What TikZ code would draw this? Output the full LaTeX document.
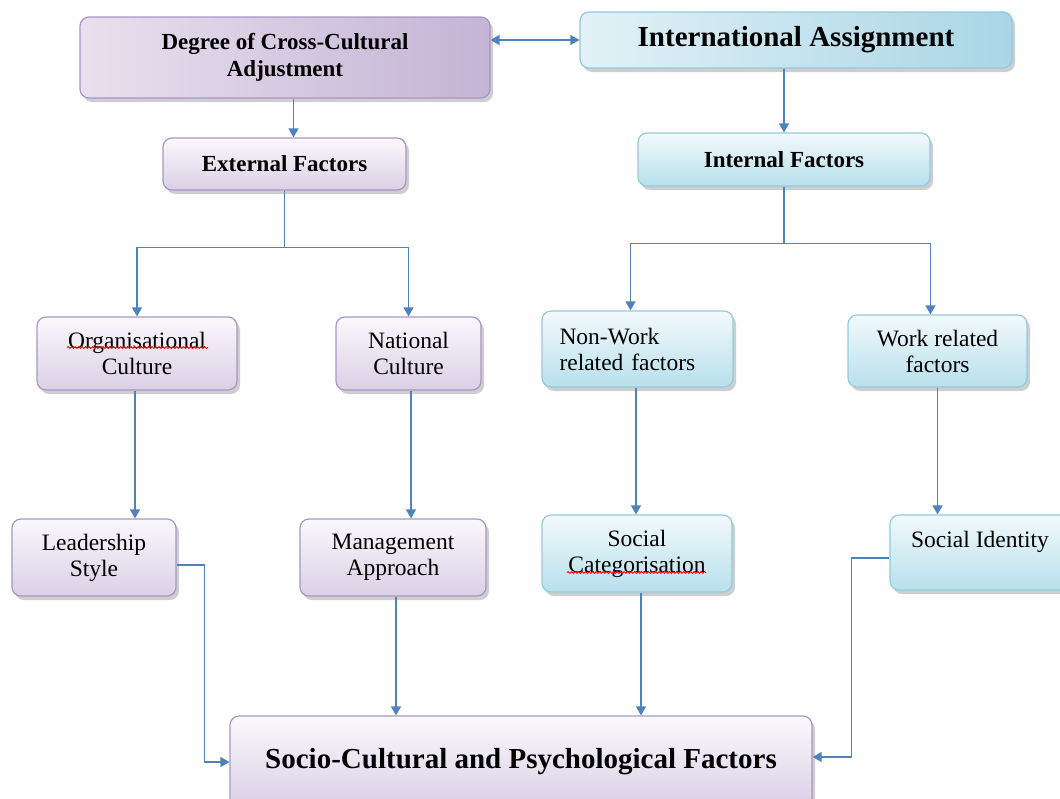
\documentclass[tikz,border=0pt]{standalone}
\usepackage{fontspec}
\setmainfont{Liberation Serif}
\usetikzlibrary{arrows.meta,shadows,decorations.pathmorphing,calc}

\definecolor{linkblue}{RGB}{79,129,189}
\definecolor{lilacedge}{RGB}{168,150,196}
\definecolor{lilactop}{RGB}{250,248,252}
\definecolor{lilacbot}{RGB}{218,208,230}
\definecolor{lilacdeepL}{RGB}{232,224,238}
\definecolor{lilacdeepR}{RGB}{196,180,214}
\definecolor{skyedge}{RGB}{146,202,222}
\definecolor{skytop}{RGB}{242,249,252}
\definecolor{skybot}{RGB}{184,224,236}
\definecolor{skydeepL}{RGB}{226,241,247}
\definecolor{skydeepR}{RGB}{170,214,230}

\tikzset{
  box/.style={rounded corners=9pt, line width=1.2pt, align=center, inner sep=2pt,
    drop shadow={shadow xshift=3pt, shadow yshift=-4pt, opacity=0.35, fill=black!55}},
  lilacbox/.style={box, draw=lilacedge, top color=lilactop, bottom color=lilacbot},
  skybox/.style={box, draw=skyedge, top color=skytop, bottom color=skybot},
  plaintext/.style={font=\fontsize{23.5}{26}\selectfont},
  headtext/.style={font=\bfseries\fontsize{23}{27}\selectfont},
  bigtext/.style={font=\bfseries\fontsize{29}{32}\selectfont},
  link/.style={draw=linkblue, line width=1.5pt},
  arr/.style={link, -{Triangle[length=9pt,width=10pt]}},
  dblarr/.style={link, {Triangle[length=9pt,width=10pt]}-{Triangle[length=9pt,width=10pt]}},
  squiggle/.style={draw=red, line width=0.8pt, decorate,
    decoration={snake, amplitude=1pt, segment length=3.5pt}}
}

\begin{document}
\begin{tikzpicture}[x=1pt,y=-1pt]
\useasboundingbox (0,0) rectangle (1060,798);

% top row
\node[box, draw=lilacedge, left color=lilacdeepL, right color=lilacdeepR, headtext,
      minimum width=410pt, minimum height=81pt] (deg) at (285,57.5)
      {Degree of Cross-Cultural\\Adjustment};
\node[box, draw=skyedge, left color=skydeepL, right color=skydeepR, bigtext,
      minimum width=432pt, minimum height=56pt] (intl) at (796,40)
      {International Assignment};

% second row
\node[lilacbox, headtext, minimum width=243pt, minimum height=52pt] (ext) at (284.5,164)
      {External Factors};
\node[skybox, headtext, minimum width=292pt, minimum height=53pt] (int) at (784,159.5)
      {Internal Factors};

% third row
\node[lilacbox, plaintext, minimum width=200pt, minimum height=73pt] (org) at (137,353.5)
      {Organisational\\Culture};
\node[lilacbox, plaintext, minimum width=145pt, minimum height=73pt] (nat) at (408.5,353.5)
      {National\\Culture};
\node[skybox, plaintext, align=left, text width=156pt, minimum width=191pt, minimum height=76pt]
      (nonw) at (637.5,349) {Non-Work\\related factors};
\node[skybox, plaintext, minimum width=179pt, minimum height=72pt] (work) at (937.5,351)
      {Work related\\factors};

% fourth row
\node[lilacbox, plaintext, minimum width=164pt, minimum height=77pt] (lead) at (94,557.5)
      {Leadership\\Style};
\node[lilacbox, plaintext, minimum width=186pt, minimum height=77pt] (mgmt) at (393,557.5)
      {Management\\Approach};
\node[skybox, plaintext, minimum width=190pt, minimum height=77pt] (scat) at (637,553.5)
      {Social\\Categorisation};
\node[skybox, plaintext, minimum width=180pt, minimum height=75pt] (sid) at (980,552.5)
      {Social Identity\\\mbox{}};

% bottom box
\node[lilacbox, bigtext, minimum width=582pt, minimum height=92pt] (soc) at (521,762)
      {Socio-Cultural and Psychological Factors};

% spell-check marks under two words
\draw[squiggle] ($(org.center)+(-70,-6)$) -- ($(org.center)+(71,-6)$);
\draw[squiggle] ($(scat.center)+(-70,19)$) -- ($(scat.center)+(69,19)$);

% connectors
\draw[dblarr] (intl.west) -- (intl.west -| deg.east);
\draw[arr] (int.north |- intl.south) -- (int.north);
\draw[arr] ([xshift=9pt]ext.north |- deg.south) -- ([xshift=9pt]ext.north);

\draw[link] (ext.south) -- ++(0,57) coordinate (extfork);
\draw[arr] (extfork) -| (org.north);
\draw[arr] (extfork) -| (nat.north);

\draw[link] (int.south) -- ++(0,57) coordinate (intfork);
\draw[arr] (intfork) -| ([xshift=-7pt]nonw.north);
\draw[arr] (intfork) -| ([xshift=-7pt]work.north);

\draw[arr] ([xshift=-2pt]org.south) -- ([xshift=-2pt]org.south |- lead.north);
\draw[arr] ([xshift=2.5pt]nat.south) -- ([xshift=2.5pt]nat.south |- mgmt.north);
\draw[arr] ([xshift=-1.5pt]nonw.south) -- ([xshift=-1.5pt]nonw.south |- scat.north);
\draw[arr] (work.south) -- (work.south |- sid.north);

\draw[arr] ([yshift=-7.5pt]lead.east) -- ++(28,0) |- (soc.west);
\draw[arr] ([xshift=3pt]mgmt.south) -- ([xshift=3pt]mgmt.south |- soc.north);
\draw[arr] ([xshift=4pt]scat.south) -- ([xshift=4pt]scat.south |- soc.north);
\draw[arr] ([yshift=-5.5pt]sid.west) -- ++(-38,0) |- ([yshift=5pt]soc.east);
\end{tikzpicture}
\end{document}
